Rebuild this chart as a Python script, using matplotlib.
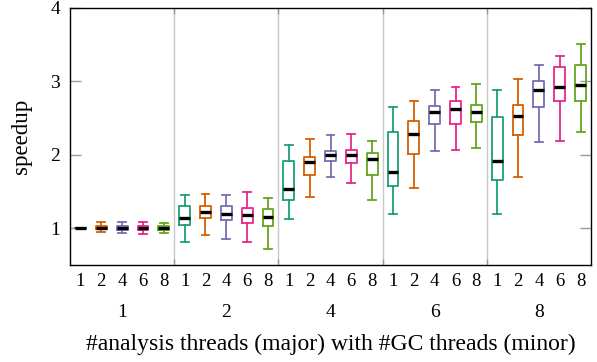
import matplotlib
matplotlib.use("Agg")
import matplotlib.pyplot as plt

plt.rcParams['font.family'] = ['Liberation Serif', 'DejaVu Serif']

analysis_threads = ["1", "2", "4", "6", "8"]
gc_threads = ["1", "2", "4", "6", "8"]
colors = ["#1b9e77", "#d95f02", "#7570b3", "#e7298a", "#66a61e"]

# rows: analysis threads, cols: GC threads
whislo = [[1.00, 0.95, 0.93, 0.92, 0.93],
          [0.82, 0.91, 0.86, 0.82, 0.72],
          [1.12, 1.42, 1.70, 1.62, 1.39],
          [1.20, 1.55, 2.05, 2.07, 2.09],
          [1.20, 1.70, 2.18, 2.19, 2.31]]
q1 = [[1.00, 0.99, 0.98, 0.98, 0.97],
      [1.04, 1.14, 1.11, 1.07, 1.03],
      [1.39, 1.72, 1.92, 1.89, 1.73],
      [1.57, 2.01, 2.42, 2.42, 2.45],
      [1.66, 2.27, 2.65, 2.74, 2.73]]
med = [[1.00, 1.01, 1.01, 1.00, 1.00],
       [1.14, 1.22, 1.19, 1.18, 1.15],
       [1.54, 1.90, 2.00, 2.00, 1.95],
       [1.76, 2.28, 2.58, 2.63, 2.59],
       [1.91, 2.53, 2.88, 2.93, 2.95]]
q3 = [[1.00, 1.03, 1.03, 1.03, 1.03],
      [1.30, 1.30, 1.30, 1.27, 1.26],
      [1.91, 1.97, 2.05, 2.07, 2.03],
      [2.31, 2.46, 2.66, 2.74, 2.68],
      [2.51, 2.68, 3.00, 3.19, 3.23]]
whishi = [[1.00, 1.08, 1.09, 1.09, 1.07],
          [1.46, 1.47, 1.45, 1.49, 1.41],
          [2.14, 2.22, 2.27, 2.28, 2.19],
          [2.65, 2.74, 2.88, 2.92, 2.96],
          [2.88, 3.03, 3.23, 3.34, 3.51]]
y_ticks = [1, 2, 3, 4]

fig = plt.figure(figsize=(5.97, 3.62), dpi=100)
ax = fig.add_axes([70/597, 1-265/362, (591-70)/597, (265-8)/362])

ng = len(gc_threads)
for g in range(len(analysis_threads)):
    for i in range(ng):
        pos = g * ng + i + 0.5
        st = [dict(med=med[g][i], q1=q1[g][i], q3=q3[g][i],
                   whislo=whislo[g][i], whishi=whishi[g][i], fliers=[])]
        c = colors[i]
        ax.bxp(st, positions=[pos], widths=0.52, showfliers=False,
               manage_ticks=False, patch_artist=False,
               boxprops=dict(color=c, linewidth=1.3),
               whiskerprops=dict(color=c, linewidth=1.3),
               capprops=dict(color=c, linewidth=1.3),
               medianprops=dict(color='black', linewidth=2.4),
               capwidths=0.38)

ax.set_xlim(0, ng * len(analysis_threads))
ax.set_ylim(0.5, 4)
ax.set_yticks(y_ticks)
ax.set_yticklabels([str(t) for t in y_ticks], fontsize=14)
ax.tick_params(axis='y', direction='in', length=8, width=1, color='#999999',
               left=True, right=True, pad=7)
bounds = [ng * k for k in range(1, len(analysis_threads))]
ax.set_xticks(bounds)
ax.set_xticklabels([])
ax.tick_params(axis='x', direction='in', length=4, width=1, color='#999999',
               top=True, bottom=True)
for b in bounds:
    ax.axvline(b, color='#c8c8c8', linewidth=1, zorder=0)
for s in ax.spines.values():
    s.set_linewidth(1.0)

for g, lab in enumerate(analysis_threads):
    for i, gl in enumerate(gc_threads):
        ax.text(g * ng + i + 0.5, -0.066, gl, transform=ax.get_xaxis_transform(),
                ha='center', va='center', fontsize=13.5)
    ax.text(g * ng + ng / 2, -0.183, lab, transform=ax.get_xaxis_transform(),
            ha='center', va='center', fontsize=14)

ax.text(0.5, -0.31, "#analysis threads (major) with #GC threads (minor)",
        transform=ax.transAxes, ha='center', va='center', fontsize=17)
ax.set_ylabel("speedup", fontsize=16.5)
ax.yaxis.set_label_coords(-38/521, 0.5)

fig.savefig("out.png", dpi=100)
